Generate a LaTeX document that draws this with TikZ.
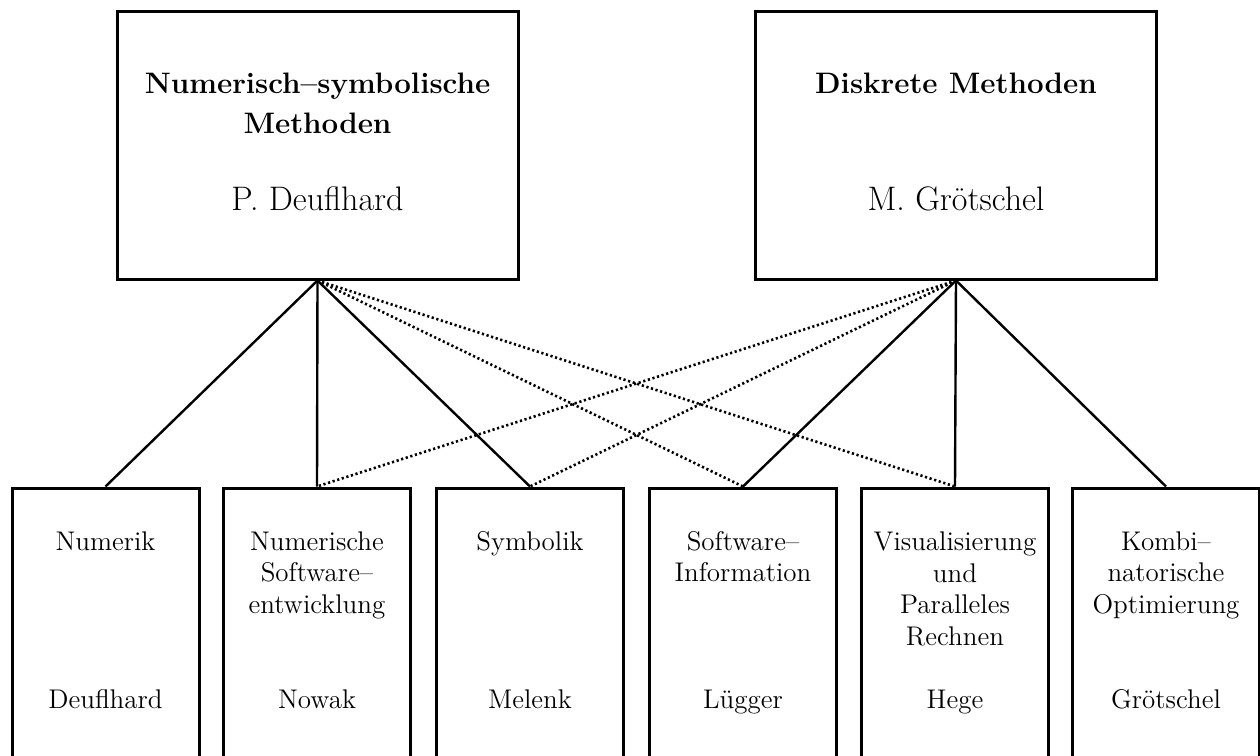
\documentclass[tikz,border=0pt]{standalone}
\usetikzlibrary{positioning}

\begin{document}
\begin{tikzpicture}[x=0.5pt, y=-0.5pt,
        bereich/.style={draw, line width=1.5pt, minimum width=200.5pt, minimum height=134pt, inner sep=0pt},
        gruppe/.style={draw, line width=1.5pt, minimum width=93.5pt, minimum height=141pt, inner sep=0pt},
        titel/.style={anchor=base, align=center, font=\fontsize{14.8}{20}\selectfont\bfseries},
        leiter/.style={anchor=base, font=\fontsize{17}{20}\selectfont},
        fach/.style={anchor=base, align=center, font=\fontsize{13.5}{15.7}\selectfont},
        haupt/.style={line width=1.2pt},
        neben/.style={line width=1.3pt, dash pattern=on 1.1pt off 1.3pt}]

            % Rahmen des Bildes
            \useasboundingbox (0, 0) rectangle (1260, 756);

            % Die zwei Bereiche oben
            \node[bereich] (numsym) at (317.5, 145) {};
            \node[bereich] (diskret) at (956, 145) {};

            % Texte (anchor=base sitzt auf der letzten Zeile)
            \node[titel] (numsymtitel) at (317.5, 133) {Numerisch--symbolische\\Methoden};
            \node[leiter] (numsymleiter) at (317.5, 210) {P. Deuflhard};
            \node[titel] (diskrettitel) at (956, 93) {Diskrete Methoden};
            \node[leiter] (diskretleiter) at (956, 210) {M. Grötschel};

            % Die sechs Gruppen unten (unten abgeschnitten)
            \node[gruppe] (numerik) at (105.5, 629) {};
            \node[gruppe] (software) at (317, 629) {};
            \node[gruppe] (symbolik) at (530, 629) {};
            \node[gruppe] (info) at (743, 629) {};
            \node[gruppe] (visual) at (955, 629) {};
            \node[gruppe] (kombi) at (1166, 629) {};

            % Texte in den Gruppen
            \node[fach] at (105.5, 550) {Numerik};
            \node[fach] at (317, 613) {Numerische\\Software--\\entwicklung};
            \node[fach] at (530, 550) {Symbolik};
            \node[fach] at (743, 581.5) {Software--\\Information};
            \node[fach] at (955, 645) {Visualisierung\\und\\Paralleles\\Rechnen};
            \node[fach] at (1166, 613) {Kombi--\\natorische\\Optimierung};

            \node[fach] at (105.5, 708) {Deuflhard};
            \node[fach] at (317, 708) {Nowak};
            \node[fach] at (530, 708) {Melenk};
            \node[fach] at (743, 708) {Lügger};
            \node[fach] at (955, 708) {Hege};
            \node[fach] at (1166, 708) {Grötschel};

            % Verbindungen (durchgezogen)
            \draw[haupt] (numsym.south) -- (numerik.north);
            \draw[haupt] (numsym.south) -- (software.north);
            \draw[haupt] (numsym.south) -- (symbolik.north);
            \draw[haupt] (diskret.south) -- (info.north);
            \draw[haupt] (diskret.south) -- (visual.north);
            \draw[haupt] (diskret.south) -- (kombi.north);

            % Verbindungen (gepunktet)
            \draw[neben] (numsym.south) -- (info.north);
            \draw[neben] (numsym.south) -- (visual.north);
            \draw[neben] (diskret.south) -- (software.north);
            \draw[neben] (diskret.south) -- (symbolik.north);

\end{tikzpicture}
\end{document}
